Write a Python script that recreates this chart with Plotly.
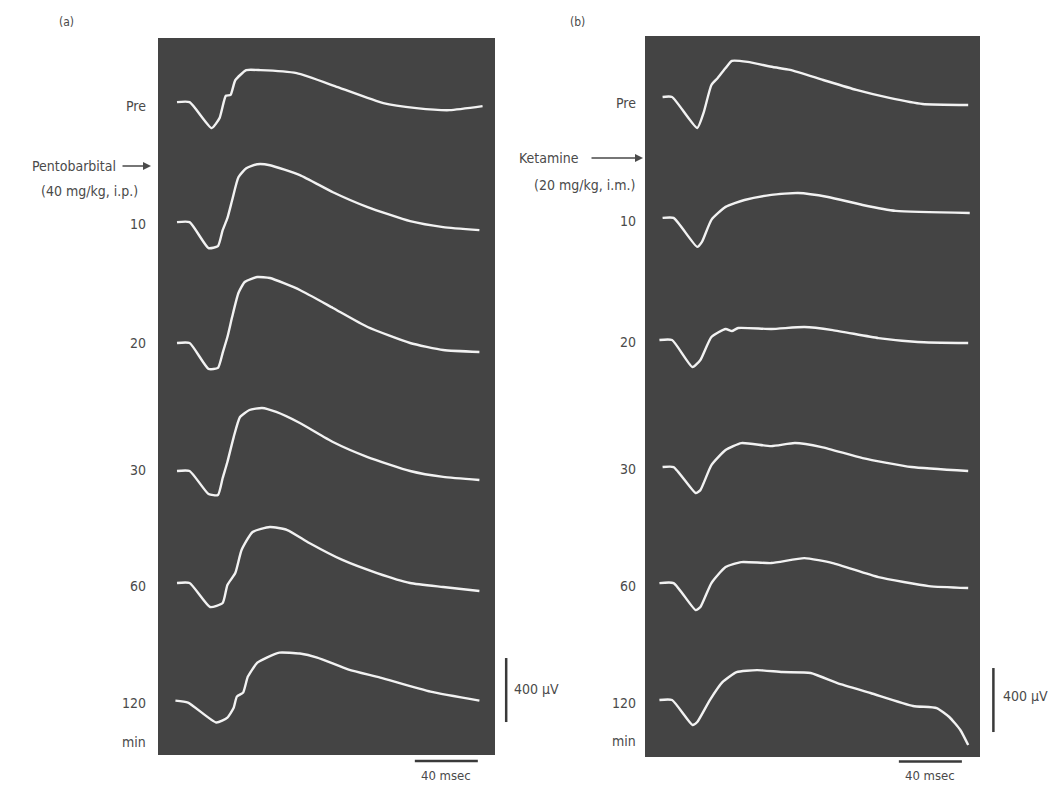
import plotly.graph_objects as go

# ---------------- data (time in msec, amplitude in microvolts) ----------------
row_labels = ["Pre", "10", "20", "30", "60", "120"]

# Panel (a): Pentobarbital
a_pre_t  = [0, 8, 22, 27, 31, 34, 37, 44, 53, 76, 102, 131, 152, 173, 194]
a_pre_uv = [0, 0, -162, -100, 40, 45, 137, 200, 200, 181, 94, -6, -37, -50, -25]
a_10_t   = [0, 8, 20, 26, 29, 32, 35, 39, 44, 51, 59, 78, 99, 121, 148, 169, 192]
a_10_uv  = [0, 0, -162, -150, -50, 25, 137, 281, 337, 362, 356, 294, 187, 94, 6, -31, -50]
a_20_t   = [0, 8, 20, 26, 29, 32, 35, 39, 43, 51, 59, 78, 99, 121, 148, 169, 192]
a_20_uv  = [0, 0, -162, -156, -62, 37, 162, 312, 381, 412, 406, 331, 219, 100, 0, -44, -56]
a_30_t   = [0, 8, 20, 26, 29, 32, 36, 40, 46, 54, 63, 78, 99, 121, 148, 169, 192]
a_30_uv  = [0, 0, -144, -150, -44, 56, 212, 337, 381, 394, 369, 300, 181, 87, 0, -37, -56]
a_60_t   = [0, 8, 21, 29, 32, 37, 41, 48, 59, 70, 84, 105, 127, 148, 169, 192]
a_60_uv  = [0, 0, -150, -125, -12, 62, 206, 319, 350, 331, 250, 144, 62, 0, -25, -50]
a_120_t  = [-1, 7, 25, 32, 36, 38, 42, 45, 51, 57, 65, 78, 89, 109, 129, 161, 192]
a_120_uv = [0, -12, -137, -106, -44, 25, 50, 150, 237, 269, 300, 294, 269, 194, 144, 56, 0]

# Panel (b): Ketamine
b_pre_t  = [1, 7, 23, 27, 32, 36, 41, 45, 55, 71, 82, 103, 124, 145, 166, 195]
b_pre_uv = [0, 0, -194, -100, 75, 119, 181, 225, 219, 187, 169, 106, 44, -6, -44, -50]
b_10_t   = [1, 8, 23, 26, 32, 41, 53, 70, 87, 106, 128, 149, 196]
b_10_uv  = [0, 0, -181, -150, -12, 69, 112, 144, 156, 131, 81, 44, 31]
b_20_t   = [-1, 7, 20, 25, 32, 41, 45, 49, 70, 91, 109, 138, 163, 195]
b_20_uv  = [0, 0, -169, -125, 19, 69, 56, 75, 69, 81, 62, 12, -12, -19]
b_30_t   = [1, 8, 22, 25, 32, 41, 51, 70, 85, 102, 128, 159, 195]
b_30_uv  = [0, 0, -162, -144, 12, 106, 150, 131, 150, 125, 56, 0, -25]
b_60_t   = [-1, 8, 22, 25, 32, 41, 51, 70, 91, 109, 138, 170, 195]
b_60_uv  = [0, 0, -169, -150, 0, 100, 131, 125, 156, 125, 37, -19, -31]
b_120_t  = [-1, 7, 20, 23, 31, 39, 48, 61, 77, 95, 112, 133, 160, 175, 183, 190, 195]
b_120_uv = [0, 0, -156, -137, 0, 112, 175, 187, 175, 169, 106, 44, -37, -50, -106, -187, -281]

# vertical offsets (microvolts above panel bottom) used to stack the sweeps
a_offsets = [4080, 3330, 2575, 1775, 1075, 340]
b_offsets = [4125, 3369, 2606, 1812, 1087, 356]

a_sweeps = [(a_pre_t, a_pre_uv), (a_10_t, a_10_uv), (a_20_t, a_20_uv),
            (a_30_t, a_30_uv), (a_60_t, a_60_uv), (a_120_t, a_120_uv)]
b_sweeps = [(b_pre_t, b_pre_uv), (b_10_t, b_10_uv), (b_20_t, b_20_uv),
            (b_30_t, b_30_uv), (b_60_t, b_60_uv), (b_120_t, b_120_uv)]

scale_uv = 400
scale_ms = 40

# ---------------- layout geometry ----------------
# The page body has an 8px margin, so the figure is drawn 8px in from the window corner.
PAGE_MARGIN = 8
W, H = 1062 - 2 * PAGE_MARGIN, 792 - 2 * PAGE_MARGIN
def px_x(p): return (p - PAGE_MARGIN) / W
def px_y(p): return 1 - (p - PAGE_MARGIN) / H

a_xdom = [px_x(158), px_x(495)]
a_ydom = [px_y(755), px_y(38)]
a_xr = [-12.06, 201.9]
a_yr = [0, 4481]

b_xdom = [px_x(645), px_x(980)]
b_ydom = [px_y(757), px_y(36)]
b_xr = [-10.16, 202.5]
b_yr = [0, 4506]

def to_paper(val, dom, rng):
    return dom[0] + (val - rng[0]) / (rng[1] - rng[0]) * (dom[1] - dom[0])

fig = go.Figure()

trace_color = "#f2f2f2"
for (t, v), off in zip(a_sweeps, a_offsets):
    fig.add_trace(go.Scatter(x=t, y=[u + off for u in v], mode="lines",
                             line=dict(color=trace_color, width=2.4, shape="spline", smoothing=0.5),
                             xaxis="x", yaxis="y", showlegend=False, hoverinfo="skip"))
for (t, v), off in zip(b_sweeps, b_offsets):
    fig.add_trace(go.Scatter(x=t, y=[u + off for u in v], mode="lines",
                             line=dict(color=trace_color, width=2.4, shape="spline", smoothing=0.5),
                             xaxis="x2", yaxis="y2", showlegend=False, hoverinfo="skip"))

bg = "#444444"
ax_common = dict(visible=False, showgrid=False, zeroline=False, fixedrange=True)
fig.update_layout(
    width=W, height=H, autosize=False,
    margin=dict(l=0, r=0, t=0, b=0),
    paper_bgcolor="white", plot_bgcolor=bg,
    xaxis=dict(domain=a_xdom, range=a_xr, **ax_common),
    yaxis=dict(domain=a_ydom, range=a_yr, **ax_common),
    xaxis2=dict(domain=b_xdom, range=b_xr, anchor="y2", **ax_common),
    yaxis2=dict(domain=b_ydom, range=b_yr, anchor="x2", **ax_common),
)

font_family = "DejaVu Sans Condensed, DejaVu Sans, sans-serif"
txt_col = "#4a4a4a"
annots = []

def label(x, y, text, xanchor="right", size=14):
    annots.append(dict(x=px_x(x), y=px_y(y), xref="paper", yref="paper", text=text,
                       showarrow=False, xanchor=xanchor, yanchor="middle",
                       font=dict(family=font_family, size=size, color=txt_col)))

# panel letters
label(66, 22, "(a)", xanchor="center", size=12)
label(577, 22, "(b)", xanchor="center", size=12)

# row labels
a_label_y = [106, 224, 343, 470, 586, 703]
b_label_y = [103, 221, 342, 469, 586, 703]
for lab, y in zip(row_labels, a_label_y):
    label(148, y, lab)
for lab, y in zip(row_labels, b_label_y):
    label(638, y, lab)
label(148, 742, "min")
label(638, 741, "min")

# drug annotations
label(118, 166, "Pentobarbital")
label(140, 191, "(40 mg/kg, i.p.)")
label(581, 158, "Ketamine")
label(637, 185, "(20 mg/kg, i.m.)")
for (x0, x1, y) in [(121, 151, 166), (590, 643, 158)]:
    annots.append(dict(x=px_x(x1), y=px_y(y), xref="paper", yref="paper",
                       ax=x0 - x1, ay=0, axref="pixel", ayref="pixel", text="",
                       showarrow=True, arrowhead=2, arrowsize=1, arrowwidth=1.6,
                       arrowcolor="#4a4a4a"))

# scale bars (lengths from the panels' own scales)
shapes = []
def scale_bars(xdom, xr, ydom, yr, vx, vy0, hx0, hy, ulab_x, ulab_y, mlab_y):
    X = to_paper(vx, xdom, xr)
    Y0 = to_paper(vy0, ydom, yr)
    Y1 = to_paper(vy0 + scale_uv, ydom, yr)
    shapes.append(dict(type="line", xref="paper", yref="paper", x0=X, x1=X, y0=Y0, y1=Y1,
                       line=dict(color="#3a3a3a", width=2.5)))
    HX0 = to_paper(hx0, xdom, xr)
    HX1 = to_paper(hx0 + scale_ms, xdom, xr)
    HY = to_paper(hy, ydom, yr)
    shapes.append(dict(type="line", xref="paper", yref="paper", x0=HX0, x1=HX1, y0=HY, y1=HY,
                       line=dict(color="#3a3a3a", width=2.5)))
    annots.append(dict(x=ulab_x, y=ulab_y, xref="paper", yref="paper", text="400 μV",
                       showarrow=False, xanchor="left", yanchor="middle",
                       font=dict(family=font_family, size=14, color=txt_col)))
    annots.append(dict(x=(HX0 + HX1) / 2, y=mlab_y, xref="paper", yref="paper", text="40 msec",
                       showarrow=False, xanchor="center", yanchor="bottom",
                       font=dict(family=font_family, size=13, color=txt_col)))

scale_bars(a_xdom, a_xr, a_ydom, a_yr, 209, 206, 151, -38, px_x(512), px_y(689), px_y(785))
scale_bars(b_xdom, b_xr, b_ydom, b_yr, 211, 156, 151, -28, px_x(1001), px_y(696), px_y(785))

fig.update_layout(annotations=annots, shapes=shapes)
fig.write_html("out.html")
